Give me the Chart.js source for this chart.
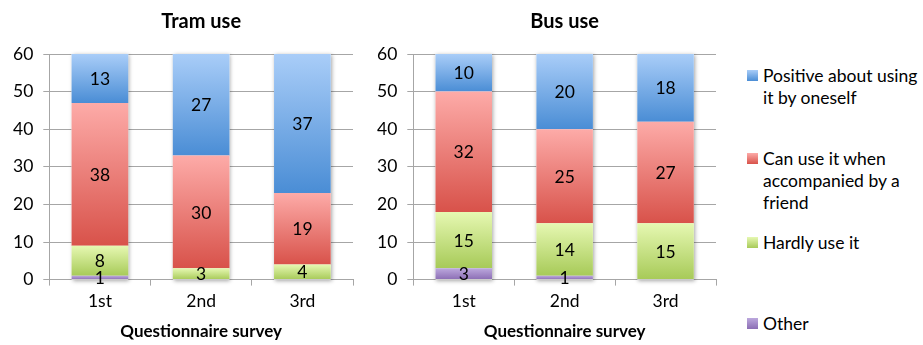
<!DOCTYPE html>
<html>
<head>
<meta charset="utf-8">
<script src="https://cdn.jsdelivr.net/npm/chart.js@4/dist/chart.umd.min.js"></script>
<style>
  body { margin: 0; background: #fff; font-family: Lato, sans-serif; }
  #wrap { position: relative; width: 923px; height: 345px; }
  .box { position: absolute; top: 0; height: 345px; }
  #legend { position: absolute; left: 747px; top: 0; color: #000; font-size: 17.5px; line-height: 22px; }
  .item { position: absolute; left: 0; width: 176px; }
  .sw { position: absolute; left: 0; top: 0; width: 11px; height: 11px; }
  .txt { position: absolute; left: 16px; top: -5px; width: 158px; }
</style>
</head>
<body>
<div id="wrap">
  <div class="box" style="left:0;width:362px"><canvas id="tram"></canvas></div>
  <div class="box" style="left:362px;width:370px"><canvas id="bus"></canvas></div>
  <div id="legend"></div>
</div>
<script>
const surveys = ["1st", "2nd", "3rd"];
const seriesNames = ["Other", "Hardly use it", "Can use it when accompanied by a friend", "Positive about using it by oneself"];

// stacked bottom to top: Other, Hardly, Can use, Positive
const tramOther = [1, 0, 0];
const tramHardly = [8, 3, 4];
const tramCanUse = [38, 30, 19];
const tramPositive = [13, 27, 37];

const busOther = [3, 1, 0];
const busHardly = [15, 14, 15];
const busCanUse = [32, 25, 27];
const busPositive = [10, 20, 18];

const yTicks = [0, 10, 20, 30, 40, 50, 60];

// light (top) / dark (bottom) of each fill
const shades = [
  ["#bca8dd", "#8b6db4"],
  ["#e6f8b2", "#a7ca58"],
  ["#fdaba8", "#d8524a"],
  ["#a9cdf8", "#4a8dd5"]
];

const grey = "#a6a6a6";

function segmentFill(series, d) {
  return function (ctx) {
    const chart = ctx.chart;
    const y = chart.scales && chart.scales.y;
    if (!y || ctx.dataIndex === undefined) return shades[d][1];
    const i = ctx.dataIndex;
    let start = 0;
    for (let k = 0; k < d; k++) start += series[k][i];
    const top = y.getPixelForValue(start + series[d][i]);
    const bot = y.getPixelForValue(start);
    if (!isFinite(top) || !isFinite(bot) || top === bot) return shades[d][1];
    const g = chart.ctx.createLinearGradient(0, top, 0, bot);
    g.addColorStop(0, shades[d][0]);
    g.addColorStop(1, shades[d][1]);
    return g;
  };
}

// soft shadow behind each whole stack
const stackShadow = {
  id: "stackShadow",
  beforeDatasetsDraw(chart) {
    const ctx = chart.ctx;
    const y = chart.scales.y;
    const metas = chart.getSortedVisibleDatasetMetas();
    ctx.save();
    ctx.shadowColor = "rgba(0,0,0,0.35)";
    ctx.shadowBlur = 4;
    ctx.shadowOffsetX = 1;
    ctx.shadowOffsetY = 1;
    ctx.fillStyle = "#fff";
    metas[0].data.forEach((bar, i) => {
      let total = 0;
      chart.data.datasets.forEach(ds => total += ds.data[i]);
      const top = y.getPixelForValue(total);
      const bot = y.getPixelForValue(0);
      ctx.fillRect(bar.x - bar.width / 2, top, bar.width, bot - top);
    });
    ctx.restore();
  }
};

// value printed in the middle of each segment
const segmentLabels = {
  id: "segmentLabels",
  afterDatasetsDraw(chart) {
    const ctx = chart.ctx;
    ctx.save();
    ctx.font = "17.5px Lato";
    ctx.fillStyle = "#000";
    ctx.textAlign = "center";
    ctx.textBaseline = "middle";
    chart.data.datasets.forEach((ds, d) => {
      chart.getDatasetMeta(d).data.forEach((bar, i) => {
        if (!ds.data[i]) return;
        const p = bar.getCenterPoint();
        ctx.fillText(ds.data[i], p.x, p.y + 1);
      });
    });
    ctx.restore();
  }
};

function makeChart(id, title, series, padLeft, padRight) {
  return new Chart(document.getElementById(id), {
    type: "bar",
    data: {
      labels: surveys,
      datasets: series.map((vals, d) => ({
        label: seriesNames[d],
        data: vals,
        backgroundColor: segmentFill(series, d),
        borderWidth: 0,
        barPercentage: 0.56,
        categoryPercentage: 1
      }))
    },
    options: {
      responsive: true,
      maintainAspectRatio: false,
      animation: false,
      layout: { padding: { left: padLeft, right: padRight, top: 0, bottom: 3 } },
      plugins: {
        legend: { display: false },
        tooltip: { enabled: false },
        title: {
          display: true,
          fullSize: false,
          text: title,
          color: "#000",
          font: { family: "Lato", size: 20, weight: "bold" },
          padding: { top: 10, bottom: 20 }
        }
      },
      scales: {
        x: {
          stacked: true,
          border: { color: grey },
          grid: { offset: true, drawOnChartArea: false, color: grey, tickLength: 6 },
          ticks: { color: "#000", font: { family: "Lato", size: 17.5 }, padding: 5 },
          title: {
            display: true,
            text: "Questionnaire survey",
            color: "#000",
            font: { family: "Lato", size: 17, weight: "bold" },
            padding: { top: 5, bottom: 0 }
          }
        },
        y: {
          stacked: true,
          min: 0,
          max: 60,
          afterBuildTicks(axis) { axis.ticks = yTicks.map(v => ({ value: v })); },
          border: { color: grey },
          grid: { color: grey, tickLength: 6 },
          ticks: { color: "#000", font: { family: "Lato", size: 17.5 }, padding: 10 }
        }
      }
    },
    plugins: [stackShadow, segmentLabels]
  });
}

makeChart("tram", "Tram use", [tramOther, tramHardly, tramCanUse, tramPositive], 3, 9);
makeChart("bus", "Bus use", [busOther, busHardly, busCanUse, busPositive], 5, 16);

// legend, top entry first
const legendTops = [70, 153, 237, 318];
const legendEl = document.getElementById("legend");
[3, 2, 1, 0].forEach((d, n) => {
  const item = document.createElement("div");
  item.className = "item";
  item.style.top = legendTops[n] + "px";
  item.innerHTML =
    '<div class="sw" style="background:linear-gradient(' + shades[d][0] + ',' + shades[d][1] + ')"></div>' +
    '<div class="txt">' + seriesNames[d] + '</div>';
  legendEl.appendChild(item);
});
</script>
</body>
</html>
